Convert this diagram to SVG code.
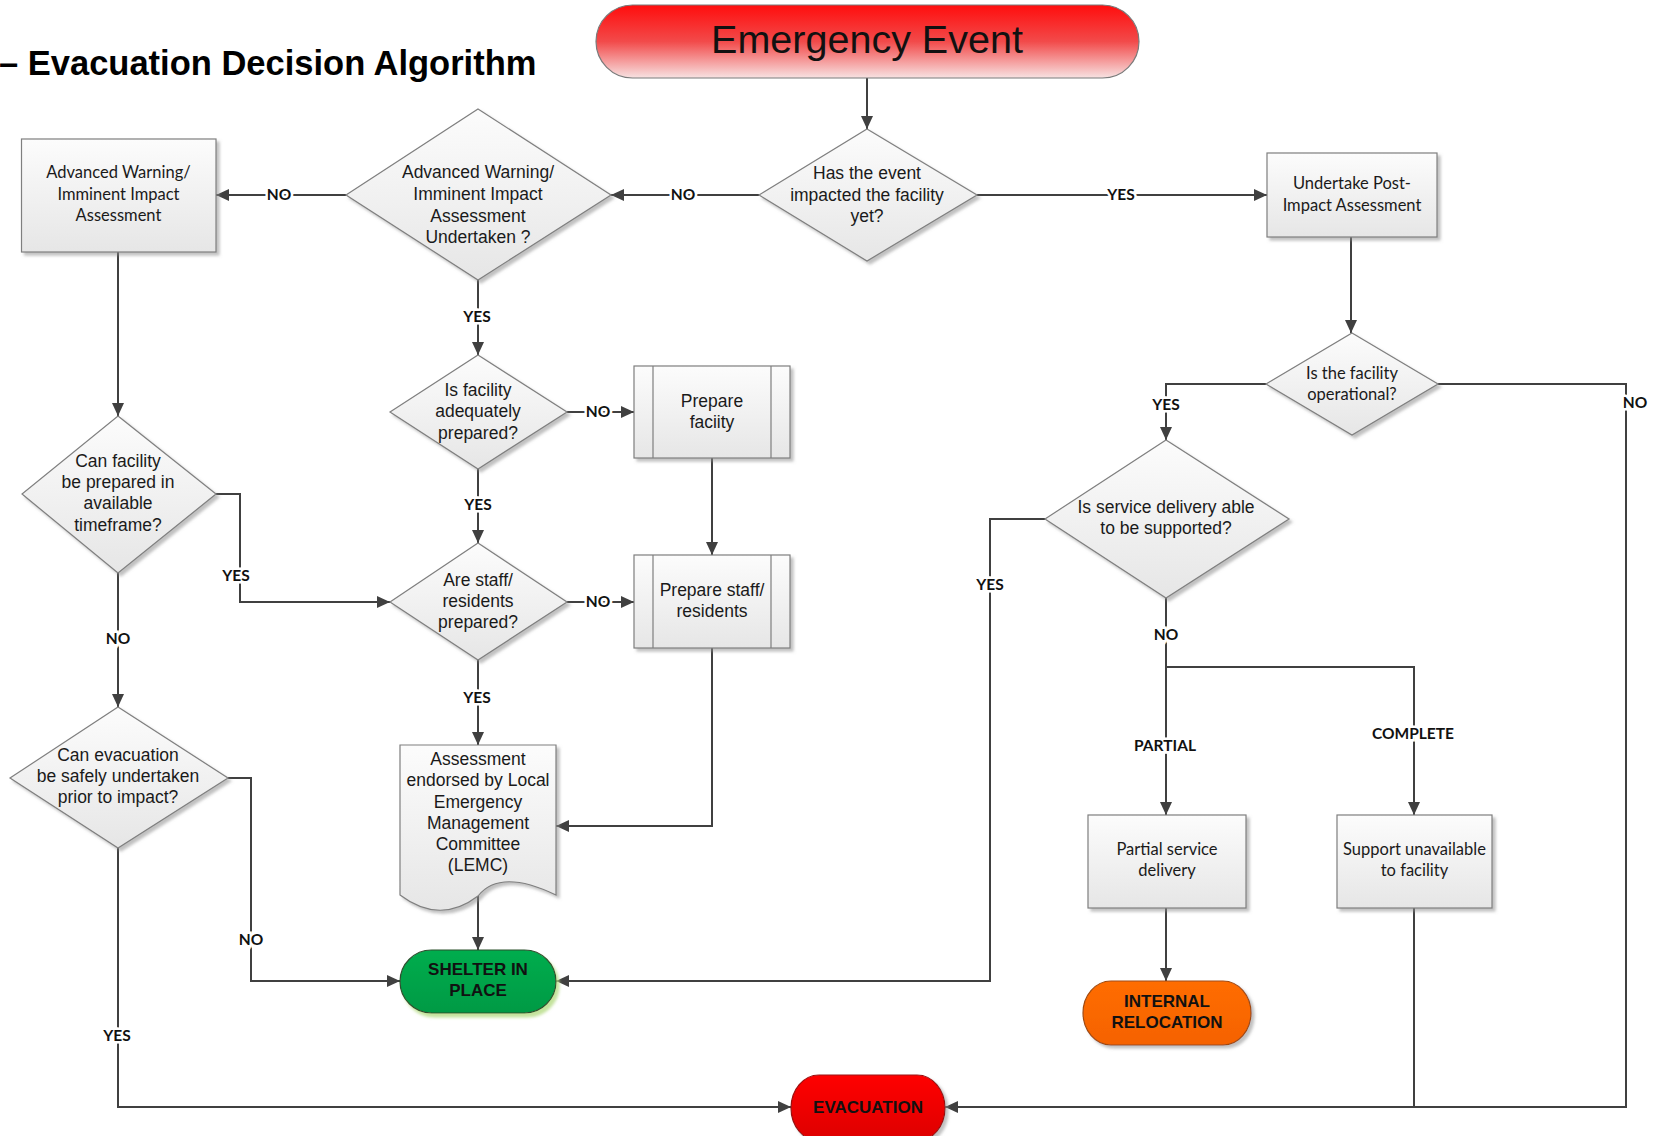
<svg xmlns="http://www.w3.org/2000/svg" width="1658" height="1136" viewBox="0 0 1658 1136">
<defs>
<linearGradient id="gNode" x1="0" y1="0" x2="0" y2="1"><stop offset="0" stop-color="#fcfcfc"/><stop offset="1" stop-color="#e6e6e6"/></linearGradient>
<linearGradient id="gEmerg" x1="0" y1="0" x2="0" y2="1"><stop offset="0" stop-color="#ff0d0d"/><stop offset="0.5" stop-color="#f24a4a"/><stop offset="1" stop-color="#f7e2e2"/></linearGradient>
<linearGradient id="gGreen" x1="0" y1="0" x2="0" y2="1"><stop offset="0" stop-color="#00ad4e"/><stop offset="1" stop-color="#009a44"/></linearGradient>
<linearGradient id="gOrange" x1="0" y1="0" x2="0" y2="1"><stop offset="0" stop-color="#ff6d00"/><stop offset="1" stop-color="#f56200"/></linearGradient>
<linearGradient id="gRed" x1="0" y1="0" x2="0" y2="1"><stop offset="0" stop-color="#ff0000"/><stop offset="1" stop-color="#dd0000"/></linearGradient>
<filter id="sh" x="-10%" y="-10%" width="130%" height="130%"><feDropShadow dx="3" dy="3" stdDeviation="1.5" flood-color="#8c8c8c" flood-opacity="0.55"/></filter>
<filter id="shG" x="-10%" y="-10%" width="130%" height="130%"><feDropShadow dx="3" dy="4" stdDeviation="1.5" flood-color="#b5dc84" flood-opacity="0.8"/></filter>
<marker id="arr" markerUnits="userSpaceOnUse" markerWidth="14" markerHeight="12" refX="13" refY="6" orient="auto"><path d="M0,0 L13,6 L0,12 z" fill="#404040"/></marker>
<style>
.node{fill:url(#gNode);stroke:#7f7f7f;stroke-width:1.2;filter:url(#sh)}
.conn{fill:none;stroke:#404040;stroke-width:2}
.ar{marker-end:url(#arr)}
.t{font-family:"Liberation Sans",Arial,sans-serif;font-size:17.5px;fill:#1a1a1a;text-anchor:middle}
.c{font-family:Lato,"Liberation Sans",sans-serif;font-size:16.5px;fill:#1a1a1a;text-anchor:middle}
.lb{font-family:Lato,"Liberation Sans",sans-serif;font-size:15.5px;font-weight:bold;fill:#111;text-anchor:middle;stroke:#fff;stroke-width:5;paint-order:stroke}
.term{font-family:"Liberation Sans",Arial,sans-serif;font-size:17px;font-weight:bold;fill:#111;text-anchor:middle}
</style>
</defs>
<rect width="1658" height="1136" fill="#fff"/>
<text x="-1" y="75" font-family="Liberation Sans,Arial,sans-serif" font-size="34.5" font-weight="bold" fill="#000">– Evacuation Decision Algorithm</text>

<g id="connectors">
<path class="conn ar" d="M867,78 V129"/>
<path class="conn ar" d="M759,195 H611"/>
<path class="conn ar" d="M346,195 H216"/>
<path class="conn ar" d="M977,195 H1267"/>
<path class="conn ar" d="M118,252 V416"/>
<path class="conn ar" d="M478,280 V355"/>
<path class="conn ar" d="M567,412 H634"/>
<path class="conn ar" d="M712,458 V555"/>
<path class="conn ar" d="M478,469 V543"/>
<path class="conn ar" d="M567,602 H634"/>
<path class="conn ar" d="M216,494 H240 V602 H390"/>
<path class="conn ar" d="M118,573 V707"/>
<path class="conn ar" d="M478,660 V745"/>
<path class="conn ar" d="M712,648 V826 H556"/>
<path class="conn ar" d="M478,896 V950"/>
<path class="conn ar" d="M228,778 H251 V981 H400"/>
<path class="conn ar" d="M118,848 V1107 H791"/>
<path class="conn ar" d="M1351,237 V333"/>
<path class="conn ar" d="M1266,384 H1166 V440"/>
<path class="conn ar" d="M1438,384 H1626 V1107 H945"/>
<path class="conn" d="M1414,908 V1107"/>
<path class="conn ar" d="M1045,519 H990 V981 H556"/>
<path class="conn ar" d="M1166,598 V815"/>
<path class="conn ar" d="M1166,667 H1414 V815"/>
<path class="conn ar" d="M1166,908 V981"/>
<text class="lb" x="279" y="200">NO</text>
<text class="lb" x="683" y="200">NO</text>
<text class="lb" x="1121" y="200">YES</text>
<text class="lb" x="477" y="322">YES</text>
<text class="lb" x="598" y="417">NO</text>
<text class="lb" x="478" y="510">YES</text>
<text class="lb" x="598" y="607">NO</text>
<text class="lb" x="477" y="703">YES</text>
<text class="lb" x="236" y="581">YES</text>
<text class="lb" x="118" y="644">NO</text>
<text class="lb" x="251" y="945">NO</text>
<text class="lb" x="117" y="1041">YES</text>
<text class="lb" x="1166" y="410">YES</text>
<text class="lb" x="1635" y="408">NO</text>
<text class="lb" x="990" y="590">YES</text>
<text class="lb" x="1166" y="640" stroke="none">NO</text>
<text class="lb" x="1165" y="751">PARTIAL</text>
<text class="lb" x="1413" y="739">COMPLETE</text>
</g>

<g id="emergency-event">
<rect x="596" y="5" width="543" height="73" rx="36.5" fill="url(#gEmerg)" stroke="#7a7a7a" stroke-width="1.2"/>
<text x="867" y="53" font-family="Liberation Sans,Arial,sans-serif" font-size="39.5" fill="#111" text-anchor="middle">Emergency Event</text>
</g>

<g id="has-event-impacted">
<polygon class="node" points="867,129 977,195 867,261 759,195"/>
<text class="t" x="867" y="178.5">Has the event</text>
<text class="t" x="867" y="200.5">impacted the facility</text>
<text class="t" x="867" y="222">yet?</text>
</g>

<g id="assessment-undertaken">
<polygon class="node" points="478,109 611,195 478,280 346,195"/>
<text class="t" x="478" y="178">Advanced Warning/</text>
<text class="t" x="478" y="200">Imminent Impact</text>
<text class="t" x="478" y="221.5">Assessment</text>
<text class="t" x="478" y="243">Undertaken ?</text>
</g>

<g id="advanced-warning-assessment">
<rect class="node" x="21.5" y="139" width="194.5" height="113"/>
<text class="c" x="118.5" y="178">Advanced Warning/</text>
<text class="c" x="118.5" y="200">Imminent Impact</text>
<text class="c" x="118.5" y="221">Assessment</text>
</g>

<g id="undertake-post-impact">
<rect class="node" x="1267" y="153" width="170" height="84"/>
<text class="c" x="1352" y="189">Undertake Post-</text>
<text class="c" x="1352" y="211">Impact Assessment</text>
</g>

<g id="can-facility-be-prepared">
<polygon class="node" points="118,416 216,494 118,573 22,494"/>
<text class="t" x="118" y="467">Can facility</text>
<text class="t" x="118" y="488">be prepared in</text>
<text class="t" x="118" y="509">available</text>
<text class="t" x="118" y="530.5">timeframe?</text>
</g>

<g id="can-evacuation">
<polygon class="node" points="118,707 228,778 118,848 10,778"/>
<text class="t" x="118" y="761">Can evacuation</text>
<text class="t" x="118" y="782">be safely undertaken</text>
<text class="t" x="118" y="803">prior to impact?</text>
</g>

<g id="facility-prepared">
<polygon class="node" points="478,355 567,412 478,469 390,412"/>
<text class="t" x="478" y="395.5">Is facility</text>
<text class="t" x="478" y="417">adequately</text>
<text class="t" x="478" y="438.5">prepared?</text>
</g>

<g id="prepare-facility">
<rect class="node" x="634" y="366" width="156" height="92"/>
<path d="M653,366 V458 M771,366 V458" stroke="#7f7f7f" stroke-width="1.2"/>
<text class="t" x="712" y="407">Prepare</text>
<text class="t" x="712" y="427.5">faciity</text>
</g>

<g id="staff-prepared">
<polygon class="node" points="478,543 567,602 478,660 390,602"/>
<text class="t" x="478" y="586">Are staff/</text>
<text class="t" x="478" y="607">residents</text>
<text class="t" x="478" y="628">prepared?</text>
</g>

<g id="prepare-staff">
<rect class="node" x="634" y="555" width="156" height="93"/>
<path d="M653,555 V648 M771,555 V648" stroke="#7f7f7f" stroke-width="1.2"/>
<text class="t" x="712" y="596">Prepare staff/</text>
<text class="t" x="712" y="617">residents</text>
</g>

<g id="lemc-endorsement">
<path class="node" d="M400,745 H556 V895 Q500,868 478,896 Q440,925 400,895 Z"/>
<text class="t" x="478" y="765">Assessment</text>
<text class="t" x="478" y="786">endorsed by Local</text>
<text class="t" x="478" y="807.5">Emergency</text>
<text class="t" x="478" y="828.5">Management</text>
<text class="t" x="478" y="850">Committee</text>
<text class="t" x="478" y="871">(LEMC)</text>
</g>

<g id="shelter-in-place">
<rect x="400" y="950" width="156" height="63" rx="31.5" fill="url(#gGreen)" stroke="#2f4f2f" stroke-width="1.2" filter="url(#shG)"/>
<text class="term" x="478" y="975">SHELTER IN</text>
<text class="term" x="478" y="996">PLACE</text>
</g>

<g id="facility-operational">
<polygon class="node" points="1352,333 1438,384 1352,435 1266,384"/>
<text class="c" x="1352" y="379">Is the facility</text>
<text class="c" x="1352" y="400">operational?</text>
</g>

<g id="service-delivery-supported">
<polygon class="node" points="1166,440 1289,519 1166,598 1045,519"/>
<text class="t" x="1166" y="513">Is service delivery able</text>
<text class="t" x="1166" y="534">to be supported?</text>
</g>

<g id="partial-service-delivery">
<rect class="node" x="1088" y="815" width="158" height="93"/>
<text class="c" x="1167" y="855">Partial service</text>
<text class="c" x="1167" y="876">delivery</text>
</g>

<g id="support-unavailable">
<rect class="node" x="1337" y="815" width="155" height="93"/>
<text class="c" x="1414.5" y="855">Support unavailable</text>
<text class="c" x="1414.5" y="876">to facility</text>
</g>

<g id="internal-relocation">
<rect x="1083" y="981" width="168" height="64" rx="28" ry="32" fill="url(#gOrange)" stroke="#a04a10" stroke-width="1.2" filter="url(#sh)"/>
<text class="term" x="1167" y="1007">INTERNAL</text>
<text class="term" x="1167" y="1028">RELOCATION</text>
</g>

<g id="evacuation">
<rect x="791" y="1075" width="154" height="66" rx="28" ry="33" fill="url(#gRed)" stroke="#9a1010" stroke-width="1.2" filter="url(#sh)"/>
<text class="term" x="868" y="1113">EVACUATION</text>
</g>
</svg>
